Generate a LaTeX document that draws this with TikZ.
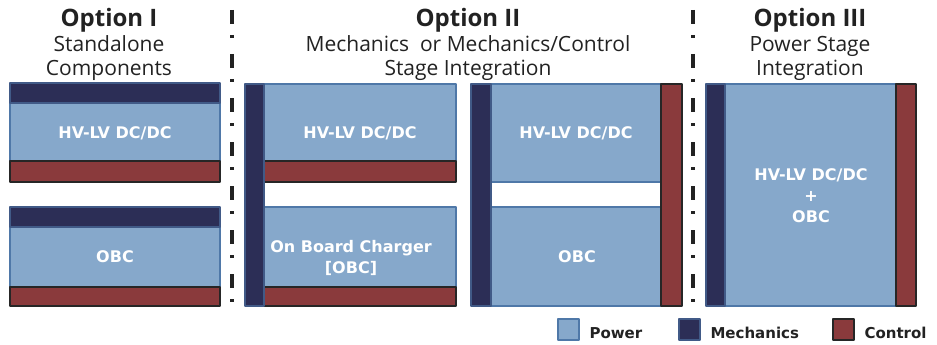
\documentclass[tikz,border=0pt]{standalone}
\usepackage{fontspec}
\setmainfont{Open Sans}
\newfontfamily\boxfont{DejaVu Sans}
\definecolor{powerfill}{HTML}{86A8CB}
\definecolor{powerline}{HTML}{4F78A8}
\definecolor{mechfill}{HTML}{2C2E56}
\definecolor{ctrlfill}{HTML}{8A3A3C}
\definecolor{textdark}{HTML}{222222}
\begin{document}
\begin{tikzpicture}[x=1pt, y=-1pt, line join=round,
	power/.style={fill=powerfill, draw=powerline, line width=1.2pt},
	mech/.style={fill=mechfill, draw=powerline!60!mechfill, line width=1.2pt},
	ctrl/.style={fill=ctrlfill, draw=black!85, line width=1.2pt},
	sep/.style={line width=3.5pt, textdark, dash pattern=on 14pt off 11pt on 3pt off 16pt},
	lbl/.style={text=white, font=\boxfont\bfseries\fontsize{16}{21}\selectfont, align=center},
	title/.style={anchor=base, text=textdark, font=\bfseries\fontsize{24}{28}\selectfont},
	sub/.style={anchor=base, text=textdark, font=\fontsize{21}{24}\selectfont},
	legtext/.style={anchor=base west, text=textdark, font=\boxfont\bfseries\fontsize{15}{18}\selectfont}]
	\useasboundingbox (0,0) rectangle (937,345);
	% 1. Tiêu đề ba phương án
	\foreach \n/\x/\t/\a/\b in {one/109/Option I/Standalone/Components,
		two/468/Option II/{Mechanics~ or Mechanics/Control}/Stage Integration,
		three/810/Option III/Power Stage/Integration} {
		\node[title] (\n-title) at (\x,27) {\t};
		\node[sub] (\n-sub1) at (\x,52) {\a};
		\node[sub] (\n-sub2) at (\x,76) {\b};
	}
	% 2. Đường phân cách
	\draw[sep] (232,10) -- (232,303);
	\draw[sep] (693,10) -- (693,303);
	% 3. Option I
	\draw[power] (10,103) rectangle (220,161);
	\draw[mech] (10,83) rectangle (220,103);
	\draw[ctrl] (10,161) rectangle (220,182);
	\draw[power] (10,227) rectangle (220,287);
	\draw[mech] (10,207) rectangle (220,227);
	\draw[ctrl] (10,287) rectangle (220,306);
	\node[lbl] (one-dcdc) at (115,133) {HV-LV DC/DC};
	\node[lbl] (one-obc) at (115,257) {OBC};
	% 4. Option II, cơ khí tích hợp
	\draw[power] (264,84) rectangle (456,161);
	\draw[ctrl] (264,161) rectangle (456,182);
	\draw[power] (264,207) rectangle (456,287);
	\draw[ctrl] (264,287) rectangle (456,306);
	\draw[mech] (245,84) rectangle (264,306);
	\node[lbl] (two-dcdc) at (360,133) {HV-LV DC/DC};
	\node[lbl] (two-obc) at (351,258) {On Board Charger\\{[OBC]}};
	% 5. Option II, cơ khí + điều khiển tích hợp
	\draw[power] (491,84) rectangle (661,182);
	\draw[power] (491,207) rectangle (661,306);
	\draw[mech] (471,84) rectangle (491,306);
	\draw[ctrl] (661,84) rectangle (682,306);
	\node[lbl] (twob-dcdc) at (576,133) {HV-LV DC/DC};
	\node[lbl] (twob-obc) at (577,257) {OBC};
	% 6. Option III
	\draw[power] (725,84) rectangle (896,306);
	\draw[mech] (706,84) rectangle (725,306);
	\draw[ctrl] (896,84) rectangle (916,306);
	\node[lbl] (three-all) at (811,196) {HV-LV DC/DC\\+\\OBC};
	% 7. Chú thích
	\foreach \s/\x/\t in {power/558/Power, mech/679/Mechanics, ctrl/833/Control} {
		\draw[\s] (\x,319) rectangle ++(21,21);
		\node[legtext] (leg-\s) at (\x+28,338) {\t};
	}
\end{tikzpicture}
\end{document}
